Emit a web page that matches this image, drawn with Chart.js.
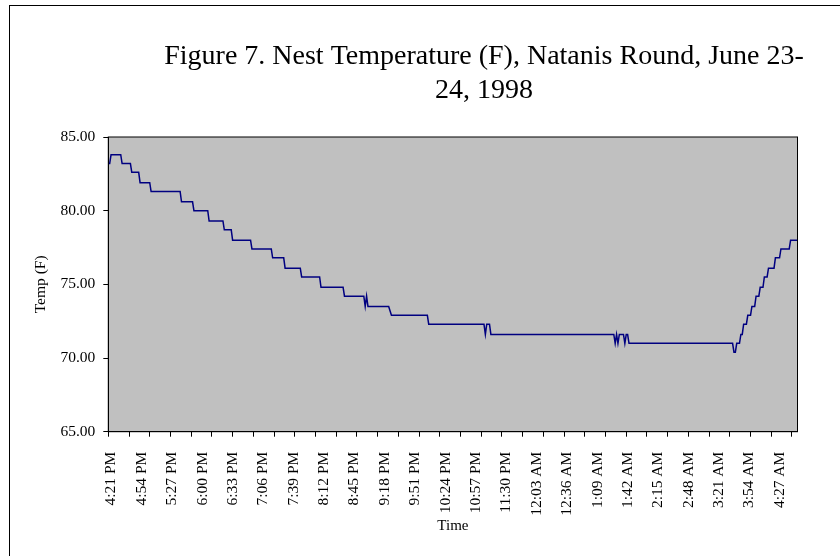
<!DOCTYPE html>
<html><head><meta charset="utf-8">
<script src="https://cdn.jsdelivr.net/npm/chart.js@4.4.1/dist/chart.umd.min.js"></script>
<style>
html,body{margin:0;padding:0;width:840px;height:556px;overflow:hidden;background:#fff;}
#frame{position:absolute;left:9px;top:5px;width:948px;height:560px;border:1px solid #000;background:#fff;}
canvas{display:block;}
</style></head><body>
<div id="frame"><canvas id="c" width="948" height="560"></canvas></div>
<script>
// Category (time) labels shown on the x axis
const timeLabels = ['4:21 PM','4:54 PM','5:27 PM','6:00 PM','6:33 PM','7:06 PM','7:39 PM','8:12 PM',
  '8:45 PM','9:18 PM','9:51 PM','10:24 PM','10:57 PM','11:30 PM','12:03 AM','12:36 AM','1:09 AM',
  '1:42 AM','2:15 AM','2:48 AM','3:21 AM','3:54 AM','4:27 AM'];
// Readings: minutes after 4:21 PM, and nest temperature (F) at that reading
const sampleMinutes = [0,1.5,3,13.5,15,24,25.5,33,34.5,45,46.5,78,79.5,91.5,93,108,109.5,124.5,126,133.5,
  135,154.5,156,177,178.5,190.5,192,208.5,210,229.5,231,255,256.5,277.5,279,280.5,282,304.5,307.5,346.5,
  348,408,409.5,411,414,415.5,549,550.5,552,553.5,555,559.5,561,562.5,564,565.5,678,679.5,681,682.5,
  685.5,687,688.5,690,693,694.5,697.5,699,702,703.5,706.5,708,711,712.5,715.5,717,723,724.5,729,730.5,
  739.5,741,748.5];
const tempF = [83.2,83.2,83.8,83.8,83.2,83.2,82.6,82.6,81.9,81.9,81.3,81.3,80.6,80.6,80.0,80.0,79.3,79.3,78.7,78.7,
  78.0,78.0,77.4,77.4,76.8,76.8,76.1,76.1,75.5,75.5,74.8,74.8,74.2,74.2,73.5,74.2,73.5,73.5,72.9,72.9,
  72.3,72.3,71.6,72.3,72.3,71.6,71.6,71.0,71.6,71.0,71.6,71.6,71.0,71.6,71.6,71.0,71.0,70.4,70.4,71.0,
  71.0,71.6,71.6,72.3,72.3,72.9,72.9,73.5,73.5,74.2,74.2,74.8,74.8,75.5,75.5,76.1,76.1,76.8,76.8,77.4,
  77.4,78.0,78.0];
const yTicks = [65, 70, 75, 80, 85];
const readingIntervalMin = 1.5;
const readingsPerTickMark = 15;

function clockToMin(s){
  const [hm, ap] = s.split(' ');
  let [h, m] = hm.split(':').map(Number);
  if (ap === 'PM' && h !== 12) h += 12;
  if (ap === 'AM' && h === 12) h = 0;
  return h * 60 + m;
}
const startMin = clockToMin(timeLabels[0]);
const labelMinutes = timeLabels.map(s => (clockToMin(s) - startMin + 1440) % 1440);
const xMax = sampleMinutes[sampleMinutes.length - 1];
const tickMinutes = [];
for (let t = 0; t <= xMax; t += readingIntervalMin * readingsPerTickMark) tickMinutes.push(t);

const points = sampleMinutes.map((m, i) => ({x: m, y: tempF[i]}));
const FONT = 'Liberation Serif, Times New Roman, serif';

const plotArea = {
  id: 'plotArea',
  beforeDraw(chart){
    const {ctx, chartArea: a} = chart;
    ctx.save(); ctx.fillStyle = '#C0C0C0';
    ctx.fillRect(a.left, a.top, a.right - a.left, a.bottom - a.top); ctx.restore();
  },
  afterDatasetsDraw(chart){
    const {ctx, chartArea: a} = chart;
    ctx.save(); ctx.strokeStyle = '#000'; ctx.lineWidth = 1;
    ctx.strokeRect(a.left, a.top, a.right - a.left, a.bottom - a.top); ctx.restore();
  }
};

new Chart(document.getElementById('c'), {
  type: 'line',
  data: { datasets: [{ data: points, borderColor: '#000080', borderWidth: 1.5, pointRadius: 0, tension: 0, fill: false }] },
  plugins: [plotArea],
  options: {
    responsive: false, animation: false, devicePixelRatio: 1,
    layout: { padding: 0 },
    plugins: {
      legend: { display: false }, tooltip: { enabled: false },
      title: { display: true, text: ['Figure 7. Nest Temperature (F), Natanis Round, June 23-', '24, 1998'],
        color: '#000', font: { family: FONT, size: 28, weight: 'normal', lineHeight: 1.2 },
        padding: { top: 33.9, bottom: 29.9 } }
    },
    scales: {
      x: { type: 'linear', position: 'bottom', weight: 0, min: 0, max: xMax,
        grid: { display: true, drawOnChartArea: false, drawTicks: true, tickLength: 5, color: '#000' },
        border: { display: true, color: '#000', width: 1 },
        ticks: { display: false },
        afterBuildTicks: s => { s.ticks = tickMinutes.map(v => ({ value: v })); } },
      xl: { type: 'linear', axis: 'x', position: 'bottom', weight: 1, min: 0, max: xMax,
        grid: { display: false }, border: { display: false },
        ticks: { autoSkip: false, maxRotation: 90, minRotation: 90, padding: 7, labelOffset: 3, color: '#000',
          font: { family: FONT, size: 15.5 }, callback: (v, i) => timeLabels[i] },
        afterBuildTicks: s => { s.ticks = labelMinutes.map(v => ({ value: v })); },
        afterFit: s => { s.height = 129.3; },
        title: { display: true, text: 'Time', color: '#000', font: { family: FONT, size: 15 }, padding: { top: 0, bottom: 31 } } },
      y: { type: 'linear', position: 'left', min: yTicks[0], max: yTicks[yTicks.length - 1],
        grid: { display: true, drawOnChartArea: false, tickLength: 5, color: '#000' },
        border: { display: true, color: '#000', width: 1 },
        ticks: { padding: 8, color: '#000', font: { family: FONT, size: 15.5 }, callback: v => Number(v).toFixed(2) },
        afterBuildTicks: s => { s.ticks = yTicks.map(v => ({ value: v })); },
        afterFit: s => { s.width = 98.3; },
        title: { display: true, text: 'Temp (F)', color: '#000', font: { family: FONT, size: 15.5 }, padding: { top: 21.7, bottom: 0 } } },
      yR: { type: 'linear', axis: 'y', position: 'right', display: true,
        grid: { display: false }, border: { display: false }, ticks: { display: false },
        afterFit: s => { s.width = 160.5; } }
    }
  }
});
</script>
</body></html>
